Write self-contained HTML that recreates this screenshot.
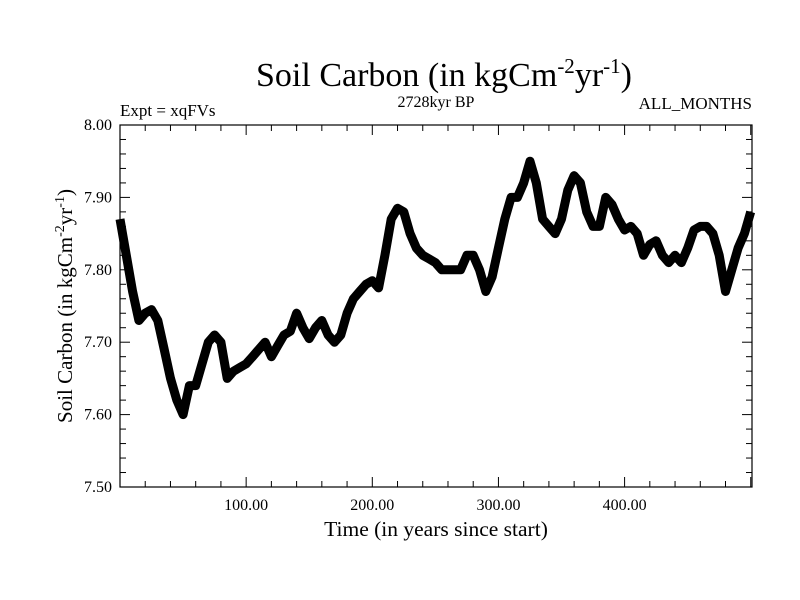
<!DOCTYPE html>
<html><head><meta charset="utf-8"><style>
body{margin:0;background:#fff;}
svg{display:block;font-family:"Liberation Serif",serif;}
</style></head><body>
<svg id="chart" width="800" height="600" viewBox="0 0 800 600">
<rect width="800" height="600" fill="#fff"/>
<text x="444" y="86" font-size="34" text-anchor="middle">Soil Carbon (in kgCm<tspan dy="-13" font-size="21">-2</tspan><tspan dy="13">yr</tspan><tspan dy="-13" font-size="21">-1</tspan><tspan dy="13">)</tspan></text>
<text x="120" y="116" font-size="17">Expt = xqFVs</text>
<text x="436" y="107" font-size="16" text-anchor="middle">2728kyr BP</text>
<text x="752" y="109" font-size="17" text-anchor="end">ALL_MONTHS</text>
<text transform="translate(72,306) rotate(-90)" font-size="21" text-anchor="middle">Soil Carbon (in kgCm<tspan dy="-8" font-size="14">-2</tspan><tspan dy="8">yr</tspan><tspan dy="-8" font-size="14">-1</tspan><tspan dy="8">)</tspan></text>
<text x="436" y="536" font-size="21.5" text-anchor="middle">Time (in years since start)</text>
<g id="axes"></g>
<g id="series"></g>
<rect x="120" y="125" width="632" height="362" fill="none" stroke="#000" stroke-width="1.2"/>
</svg>
<script>
const years = [0,5,10,15,20,25,30,35,40,45,50,55,60,65,70,75,80,85,90,95,100,105,110,115,120,125,130,135,140,145,150,155,160,165,170,175,180,185,190,195,200,205,210,215,220,225,230,235,240,245,250,255,260,265,270,275,280,285,290,295,300,305,310,315,320,325,330,335,340,345,350,355,360,365,370,375,380,385,390,395,400,405,410,415,420,425,430,435,440,445,450,455,460,465,470,475,480,485,490,495,500];
const soilCarbon = [7.87,7.82,7.77,7.73,7.74,7.745,7.73,7.69,7.65,7.62,7.60,7.64,7.64,7.67,7.70,7.71,7.70,7.65,7.66,7.665,7.67,7.68,7.69,7.70,7.68,7.695,7.71,7.715,7.74,7.72,7.705,7.72,7.73,7.71,7.70,7.71,7.74,7.76,7.77,7.78,7.785,7.775,7.82,7.87,7.885,7.88,7.85,7.83,7.82,7.815,7.81,7.80,7.80,7.80,7.80,7.82,7.82,7.80,7.77,7.79,7.83,7.87,7.90,7.90,7.92,7.95,7.92,7.87,7.86,7.85,7.87,7.91,7.93,7.92,7.88,7.86,7.86,7.90,7.89,7.87,7.855,7.86,7.85,7.82,7.835,7.84,7.82,7.81,7.82,7.81,7.83,7.855,7.86,7.86,7.85,7.82,7.77,7.80,7.83,7.85,7.88];
const yTickValues = [7.5,7.6,7.7,7.8,7.9,8.0];
const yTickLabels = ["7.50","7.60","7.70","7.80","7.90","8.00"];
const xTickValues = [100,200,300,400];
const xTickLabels = ["100.00","200.00","300.00","400.00"];

const X0=120,X1=752,Y0=125,Y1=487, XMIN=0,XMAX=501, YMIN=7.5,YMAX=8.0;
const sx=v=>X0+(v-XMIN)/(XMAX-XMIN)*(X1-X0);
const sy=v=>Y1-(v-YMIN)/(YMAX-YMIN)*(Y1-Y0);
const NS="http://www.w3.org/2000/svg";
const axes=document.getElementById('axes');
function line(x1,y1,x2,y2,name){const l=document.createElementNS(NS,'line');l.setAttribute('x1',x1);l.setAttribute('y1',y1);l.setAttribute('x2',x2);l.setAttribute('y2',y2);l.setAttribute('stroke','#000');l.setAttribute('stroke-width','1');


axes.appendChild(l);}
function text(x,y,s,anchor,name){const t=document.createElementNS(NS,'text');t.setAttribute('x',x);t.setAttribute('y',y);t.setAttribute('font-size','16');t.setAttribute('text-anchor',anchor);t.textContent=s;


axes.appendChild(t);}
for(let v=20;v<XMAX;v+=20){const x=sx(v);const major=v%100===0;const L=major?10:6;
line(x,Y1,x,Y1-L,'x-tick');line(x,Y0,x,Y0+L,'x-tick-top');}
for(let i=0;i<=25;i++){const v=YMIN+i*0.02;const y=sy(v);const major=i%5===0;const L=major?10:6;
line(X0,y,X0+L,y,'y-tick');line(X1,y,X1-L,y,'y-tick-right');}
yTickValues.forEach((v,i)=>text(112,sy(v)+5,yTickLabels[i],'end','y-tick-label'));
xTickValues.forEach((v,i)=>text(sx(v),sy(YMIN)+23,xTickLabels[i],'middle','x-tick-label'));
const p=document.createElementNS(NS,'polyline');
p.setAttribute('points',years.map((y,i)=>sx(y).toFixed(1)+','+sy(soilCarbon[i]).toFixed(1)).join(' '));
p.setAttribute('fill','none');p.setAttribute('stroke','#000');p.setAttribute('stroke-width','9');p.setAttribute('stroke-linejoin','round');


document.getElementById('series').appendChild(p);
</script>
</body></html>
